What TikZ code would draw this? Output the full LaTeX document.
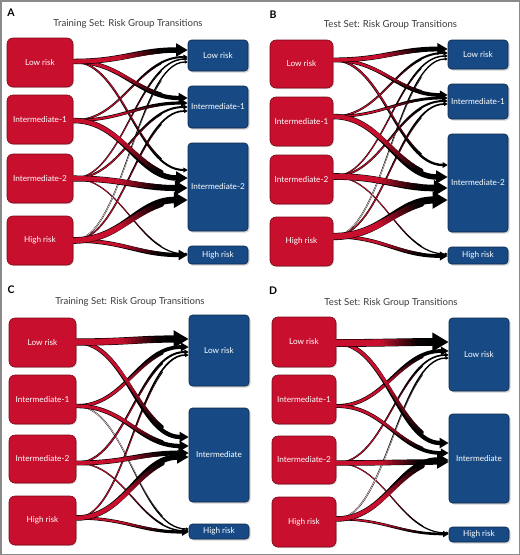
\documentclass[tikz,border=0pt]{standalone}
\usepackage{fontspec}
\setmainfont{Lato}
\setsansfont{Lato}
\usetikzlibrary{arrows.meta,calc,shadows}

\definecolor{riskred}{HTML}{C8102E}
\definecolor{riskredline}{HTML}{7A0A19}
\definecolor{riskblue}{HTML}{174A84}
\definecolor{riskblueline}{HTML}{0B2747}
\definecolor{titlegray}{HTML}{3A3A3A}
\definecolor{framegray}{HTML}{8A8A8A}
\definecolor{palecore}{HTML}{E6CFCF}

\newdimen\flowxa \newdimen\flowya \newdimen\flowxb \newdimen\flowyb

\tikzset{
  lbox/.style={draw=riskredline, line width=0.6pt, fill=riskred, rounded corners=6pt,
    text=white, font=\fontsize{8.2}{9}\selectfont, inner sep=0pt,
    drop shadow={shadow xshift=1pt, shadow yshift=-1pt, opacity=0.3}},
  rbox/.style={draw=riskblueline, line width=0.6pt, fill=riskblue, rounded corners=3.5pt,
    text=white, font=\fontsize{8.2}{9}\selectfont, inner sep=0pt,
    drop shadow={shadow xshift=1.5pt, shadow yshift=-1.5pt, opacity=0.35}},
  paneltitle/.style={text=titlegray, font=\fontsize{9.6}{11}\selectfont, inner sep=0pt},
  panelletter/.style={text=black, font=\fontsize{10.5}{12}\selectfont\bfseries, inner sep=0pt},
  flowtip/.style={-{Triangle[length=0pt 2.1, width=0pt 2.3]}},
}

% #1 core colour, #2 source node, #3 start offset, #4 target node, #5 end offset, #6 width
\newcommand\riskflow[6][riskred]{%
  \pgfmathsetmacro\flowwd{1.15*#6+0.3}%
  \pgfmathsetmacro\flowcore{max(\flowwd-1.2,0.5*\flowwd)}%
  \draw[line width=\flowwd pt, black, flowtip]
    ($(#2.east)+(0,#3)$) coordinate (fs) .. controls +(50,0) and +(-50,0) ..
    ($(#4.west)+(0,#5)$) coordinate (fe);
  \pgfextractx{\flowxa}{\pgfpointanchor{fs}{center}}%
  \pgfextracty{\flowya}{\pgfpointanchor{fs}{center}}%
  \pgfextractx{\flowxb}{\pgfpointanchor{fe}{center}}%
  \pgfextracty{\flowyb}{\pgfpointanchor{fe}{center}}%
  \pgfmathsetmacro\fxa{\flowxa}\pgfmathsetmacro\fya{\flowya}%
  \pgfmathsetmacro\fxb{\flowxb}\pgfmathsetmacro\fyb{\flowyb}%
  \foreach \i in {0,...,19}{%
    \pgfmathsetmacro\ta{\i/25}%
    \pgfmathsetmacro\tb{(\i+1)/25}%
    \pgfmathsetmacro\pxa{(1-\ta)^3*\fxa+3*(1-\ta)^2*\ta*(\fxa+50)+3*(1-\ta)*\ta^2*(\fxb-50)+\ta^3*\fxb}%
    \pgfmathsetmacro\pxb{(1-\tb)^3*\fxa+3*(1-\tb)^2*\tb*(\fxa+50)+3*(1-\tb)*\tb^2*(\fxb-50)+\tb^3*\fxb}%
    \pgfmathsetmacro\pya{\fya+(\fyb-\fya)*(3*\ta^2-2*\ta^3)}%
    \pgfmathsetmacro\pyb{\fya+(\fyb-\fya)*(3*\tb^2-2*\tb^3)}%
    \pgfmathtruncatemacro\pct{max(0,min(100,100*(0.8-(\ta+\tb)/2)/0.4))}%
    \draw[line width=\flowcore pt, color=#1!\pct!black, line cap=round]
      (\pxa pt,\pya pt) -- (\pxb pt,\pyb pt);
  }%
}

\begin{document}
\begin{tikzpicture}[x=1pt, y=-1pt]
\useasboundingbox (0,0) rectangle (520,555);
\draw[framegray, line width=1.5pt] (0.75,0.75) rectangle (519.25,554.25);

% ---------- Panel A ----------
\node[panelletter] (aA) at (11,13) {A};
\node[paneltitle] (aT) at (128,24) {Training Set: Risk Group Transitions};
\node[lbox, minimum width=66pt, minimum height=49pt] (aL1) at (40,62.5) {Low risk};
\node[lbox, minimum width=66pt, minimum height=49pt] (aL2) at (40,119.5) {Intermediate-1};
\node[lbox, minimum width=66pt, minimum height=49pt] (aL3) at (40,178.5) {Intermediate-2};
\node[lbox, minimum width=66pt, minimum height=49pt] (aL4) at (40,240.5) {High risk};
\node[rbox, minimum width=60pt, minimum height=31pt] (aR1) at (218,55.5) {Low risk};
\node[rbox, minimum width=60pt, minimum height=42pt] (aR2) at (218,107) {Intermediate-1};
\node[rbox, minimum width=60pt, minimum height=88pt] (aR3) at (218,187) {Intermediate-2};
\node[rbox, minimum width=60pt, minimum height=18pt] (aR4) at (218,255) {High risk};

\riskflow{aL3}{0}{aR4}{-1}{0.8}
\riskflow[palecore]{aL4}{0}{aR1}{6.5}{0.9}
\riskflow{aL3}{0}{aR1}{3.5}{1.0}
\riskflow{aL4}{0}{aR2}{4}{1.2}
\riskflow{aL1}{-1}{aR3}{-17}{1.5}
\riskflow{aL2}{1}{aR1}{1.5}{1.5}
\riskflow{aL3}{0}{aR2}{0}{1.5}
\riskflow{aL2}{1}{aR2}{-4}{2.5}
\riskflow{aL4}{0}{aR4}{0}{3.5}
\riskflow{aL1}{-1}{aR2}{-9}{3.5}
\riskflow{aL2}{1}{aR3}{-9}{4.5}
\riskflow{aL1}{-1}{aR1}{-5.5}{4.5}
\riskflow{aL3}{0}{aR3}{1}{5}
\riskflow{aL4}{0}{aR3}{13}{5.5}

% ---------- Panel B ----------
\node[panelletter] (bB) at (273,15) {B};
\node[paneltitle] (bT) at (390.5,25) {Test Set: Risk Group Transitions};
\node[lbox, minimum width=63pt, minimum height=48pt] (bL1) at (301.5,64) {Low risk};
\node[lbox, minimum width=63pt, minimum height=49pt] (bL2) at (301.5,121.5) {Intermediate-1};
\node[lbox, minimum width=63pt, minimum height=49pt] (bL3) at (301.5,179.5) {Intermediate-2};
\node[lbox, minimum width=63pt, minimum height=49pt] (bL4) at (301.5,241.5) {High risk};
\node[rbox, minimum width=60pt, minimum height=29pt] (bR1) at (478,54.5) {Low risk};
\node[rbox, minimum width=60pt, minimum height=35pt] (bR2) at (478,101.5) {Intermediate-1};
\node[rbox, minimum width=60pt, minimum height=98pt] (bR3) at (478,183) {Intermediate-2};
\node[rbox, minimum width=60pt, minimum height=17pt] (bR4) at (478,255.5) {High risk};

\riskflow{bL3}{-3}{bR4}{-1.5}{0.8}
\riskflow[palecore]{bL4}{-5}{bR1}{4.5}{0.9}
\riskflow{bL3}{-3}{bR1}{1.5}{1.0}
\riskflow{bL4}{-5}{bR2}{2.5}{1.2}
\riskflow{bL2}{-5}{bR1}{-1.5}{1.5}
\riskflow{bL3}{-3}{bR2}{-0.5}{1.5}
\riskflow{bL1}{-4}{bR3}{-18}{1.8}
\riskflow{bL2}{-5}{bR2}{-3.5}{2.2}
\riskflow{bL4}{-5}{bR4}{0.5}{3}
\riskflow{bL1}{-4}{bR2}{-6.5}{3}
\riskflow{bL1}{-4}{bR1}{-5.5}{4}
\riskflow{bL2}{-5}{bR3}{-6}{4.5}
\riskflow{bL3}{-3}{bR3}{5}{5.5}
\riskflow{bL4}{-5}{bR3}{17}{6}

% ---------- Panel C ----------
\node[panelletter] (cC) at (11,290) {C};
\node[paneltitle] (cT) at (130,302) {Training Set: Risk Group Transitions};
\node[lbox, minimum width=67pt, minimum height=49pt] (cL1) at (42.5,342.5) {Low risk};
\node[lbox, minimum width=67pt, minimum height=49pt] (cL2) at (42.5,399.5) {Intermediate-1};
\node[lbox, minimum width=67pt, minimum height=48pt] (cL3) at (42.5,459) {Intermediate-2};
\node[lbox, minimum width=67pt, minimum height=49pt] (cL4) at (42.5,520.5) {High risk};
\node[rbox, minimum width=60pt, minimum height=71pt] (cR1) at (219,350.5) {Low risk};
\node[rbox, minimum width=60pt, minimum height=94pt] (cR2) at (219,455) {Intermediate};
\node[rbox, minimum width=60pt, minimum height=15pt] (cR3) at (219,531.5) {High risk};

\riskflow[palecore]{cL2}{6.5}{cR3}{-2.5}{0.9}
\riskflow{cL3}{4}{cR3}{-0.5}{1.0}
\riskflow{cL4}{-2.5}{cR1}{4.5}{1.2}
\riskflow{cL3}{4}{cR1}{1.5}{1.5}
\riskflow{cL4}{-2.5}{cR3}{0.5}{2.5}
\riskflow{cL2}{6.5}{cR1}{-3.5}{3}
\riskflow{cL1}{-0.5}{cR2}{-18}{3.5}
\riskflow{cL2}{6.5}{cR2}{-9}{3.5}
\riskflow{cL3}{4}{cR2}{-2}{4}
\riskflow{cL4}{-2.5}{cR2}{2}{4.5}
\riskflow{cL1}{-0.5}{cR1}{-11.5}{6}

% ---------- Panel D ----------
\node[panelletter] (dD) at (273,291) {D};
\node[paneltitle] (dT) at (391,303) {Test Set: Risk Group Transitions};
\node[lbox, minimum width=64pt, minimum height=50pt] (dL1) at (304,342) {Low risk};
\node[lbox, minimum width=64pt, minimum height=49pt] (dL2) at (304,399.5) {Intermediate-1};
\node[lbox, minimum width=64pt, minimum height=48pt] (dL3) at (304,460) {Intermediate-2};
\node[lbox, minimum width=64pt, minimum height=50pt] (dL4) at (304,522) {High risk};
\node[rbox, minimum width=60pt, minimum height=73pt] (dR1) at (479,354.5) {Low risk};
\node[rbox, minimum width=60pt, minimum height=89pt] (dR2) at (479,458.5) {Intermediate};
\node[rbox, minimum width=60pt, minimum height=15pt] (dR3) at (479,534.5) {High risk};

\riskflow{dL3}{3}{dR3}{-1.5}{0.8}
\riskflow[palecore]{dL4}{-3}{dR1}{3.5}{1.0}
\riskflow{dL3}{3}{dR1}{0.5}{1.2}
\riskflow{dL4}{-3}{dR3}{-0.5}{2}
\riskflow{dL2}{6.5}{dR1}{-3.5}{3}
\riskflow{dL2}{6.5}{dR2}{-5.5}{3}
\riskflow{dL1}{1}{dR2}{-15.5}{3.5}
\riskflow{dL3}{3}{dR2}{3.5}{4.5}
\riskflow{dL4}{-3}{dR2}{1.5}{4.5}
\riskflow{dL1}{1}{dR1}{-12.5}{6.5}
\end{tikzpicture}
\end{document}
